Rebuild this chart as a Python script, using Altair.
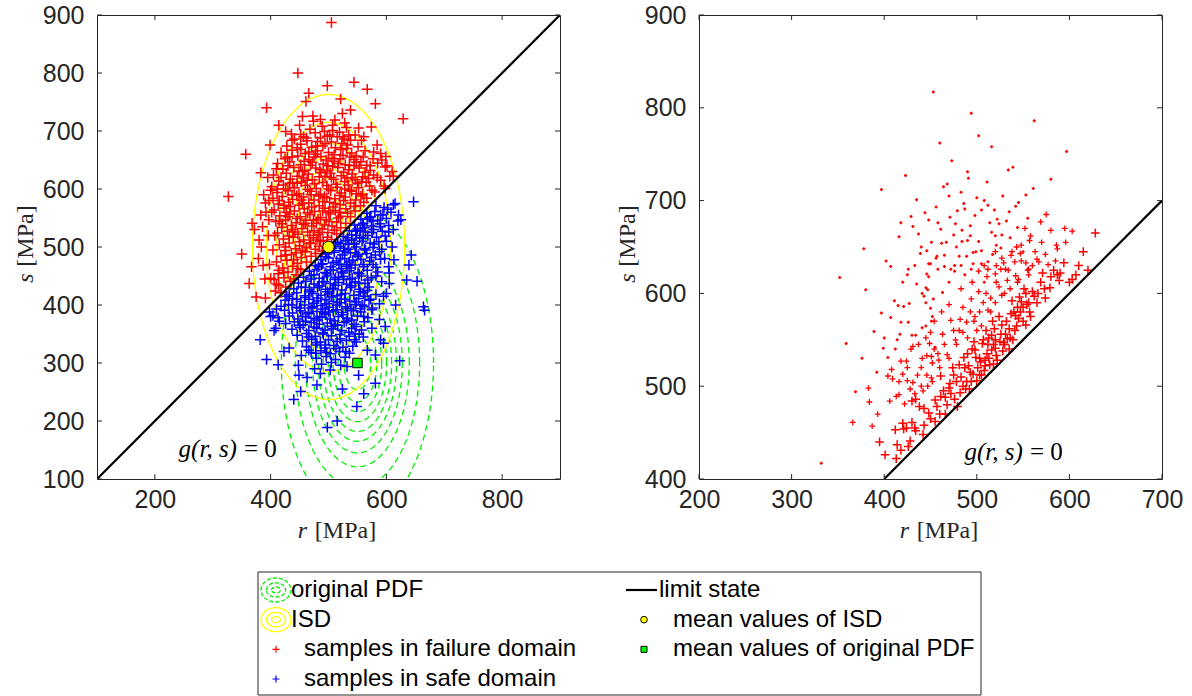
import altair as alt
import numpy as np
import pandas as pd

# ---------------- data ----------------
# left panel: importance sampling density (ISD) and original PDF
isd_mean = [500, 500]          # (r, s)
orig_mean = [550, 300]         # (r, s)
pdf_sigma = [50, 100]          # (sigma_r, sigma_s) of both densities
contour_k = [0.46, 0.67, 0.84, 1.01, 1.18, 1.35, 1.55, 1.79, 2.15, 2.63]

limit_left = [100, 900]
limit_right = [400, 700]

left_fail = [
    (505, 887), (447, 800), (498, 778), (544, 784), (567, 772), (466, 765), (461, 751), (521, 755), (581, 747), (393, 740),
    (455, 725), (473, 726), (524, 730), (538, 736), (629, 721), (414, 710), (426, 699), (474, 717), (511, 719), (528, 714),
    (552, 705), (574, 707), (535, 693), (561, 690), (399, 676), (357, 660), (437, 684), (578, 664), (599, 656), (383, 628),
    (410, 635), (610, 630), (327, 587), (350, 488), (367, 466), (363, 437), (375, 414), (391, 412), (368, 541), (372, 530),
    (380, 512), (388, 590), (391, 576), (397, 580), (383, 555), (397, 547), (390, 445), (400, 446), (414, 460),
    (395, 620), (400, 598), (392, 560), (386, 535), (396, 520), (404, 495), (398, 470), (387, 468), (379, 480), (384, 500),
    (601, 640), (612, 622), (592, 650), (596, 605),
    (468, 703), (489, 708), (507, 701), (531, 706),
    (452, 694), (477, 697), (498, 691), (519, 698), (546, 693),
    (441, 686), (463, 683), (486, 688), (505, 681), (527, 686), (557, 684),
    (428, 674), (452, 677), (471, 672), (494, 678), (512, 671), (533, 676), (551, 673), (584, 676),
    (418, 663), (437, 667), (460, 661), (481, 666), (500, 663), (521, 668), (540, 662), (563, 666), (590, 661),
    (425, 652), (447, 657), (466, 651), (487, 656), (506, 653), (525, 658), (544, 651), (560, 655), (577, 652),
    (412, 644), (433, 647), (452, 642), (472, 646), (491, 643), (510, 648), (529, 642), (548, 646), (566, 641), (585, 645),
    (421, 634), (440, 637), (459, 632), (478, 636), (497, 631), (516, 637), (535, 633), (553, 636), (572, 632), (598, 638),
    (405, 624), (427, 627), (446, 622), (465, 626), (484, 621), (503, 627), (522, 623), (541, 626), (559, 621), (578, 624), (606, 622),
    (414, 614), (434, 617), (453, 612), (472, 616), (490, 611), (509, 617), (528, 613), (546, 616), (565, 612), (590, 615),
    (402, 604), (422, 607), (441, 602), (460, 606), (479, 601), (497, 606), (515, 603), (534, 607), (552, 602), (571, 605), (598, 601),
    (411, 594), (430, 597), (449, 592), (468, 596), (486, 591), (504, 597), (522, 593), (540, 596), (559, 591), (580, 595),
    (404, 584), (420, 587), (438, 582), (457, 586), (475, 581), (493, 587), (511, 583), (529, 586), (547, 581), (566, 584),
    (413, 574), (431, 577), (449, 572), (466, 576), (484, 571), (502, 577), (520, 573), (538, 576), (555, 571),
    (406, 564), (423, 567), (441, 562), (458, 566), (476, 561), (494, 567), (512, 563), (530, 566), (546, 562),
    (416, 554), (433, 557), (451, 552), (468, 556), (486, 551), (503, 557), (521, 553), (538, 552),
    (409, 544), (426, 547), (444, 542), (461, 546), (479, 541), (496, 547), (514, 543), (530, 541),
    (419, 534), (436, 537), (454, 532), (471, 536), (489, 531), (506, 536), (521, 533),
    (412, 524), (429, 527), (447, 522), (464, 526), (482, 521), (499, 525), (514, 523),
    (422, 514), (439, 517), (457, 512), (474, 516), (491, 511), (505, 513),
    (415, 504), (432, 507), (450, 502), (467, 506), (484, 501),
    (425, 494), (443, 497), (460, 492), (477, 496), (489, 493),
    (418, 484), (436, 487), (453, 482), (470, 484),
    (410, 474), (428, 477), (446, 472), (462, 474),
    (421, 464), (438, 467), (452, 461),
    (413, 454), (430, 457), (444, 452),
    (406, 444), (423, 447), (434, 441),
    (414, 434), (426, 431), (408, 424), (418, 421),
    (457, 690), (481, 682), (502, 693), (523, 679),
    (446, 671), (466, 664), (490, 674), (510, 659), (531, 670), (548, 657),
    (437, 655), (458, 648), (478, 660), (496, 650), (517, 644), (537, 655), (556, 647),
    (430, 640), (449, 631), (469, 641), (487, 628), (507, 639), (526, 629), (544, 640), (563, 629),
    (418, 620), (438, 611), (457, 619), (476, 609), (494, 622), (513, 608), (532, 619), (550, 610), (569, 618),
    (426, 600), (445, 589), (464, 599), (483, 588), (500, 600), (519, 589), (537, 598), (556, 588), (575, 598),
    (415, 580), (434, 570), (453, 581), (471, 569), (490, 578), (508, 569), (526, 580), (544, 570), (561, 577),
    (427, 560), (446, 549), (464, 559), (482, 548), (500, 560), (517, 550), (533, 558),
    (420, 540), (438, 530), (457, 539), (475, 528), (493, 538), (510, 529),
    (432, 519), (450, 509), (468, 520), (486, 510), (498, 517),
    (426, 500), (444, 490), (462, 499), (478, 489),
    (462, 688), (493, 699), (515, 690), (538, 684), (475, 655), (452, 668), (499, 640), (520, 652), (541, 620), (463, 615),
    (485, 633), (446, 610), (505, 620), (528, 600), (470, 590), (490, 562), (455, 575), (437, 590), (512, 575), (548, 592),
    (430, 552), (474, 546), (497, 585), (519, 560), (442, 526), (460, 541), (485, 525), (501, 544), (423, 572), (415, 545),
    (433, 610), (455, 630), (478, 674), (536, 641), (557, 612), (572, 640), (584, 620), (525, 690), (507, 710), (486, 720),
    (450, 710), (436, 695), (429, 655), (412, 600), (402, 560), (407, 520), (426, 486), (440, 478), (455, 494), (469, 507),
    (480, 512), (447, 463), (423, 456), (410, 436), (440, 445),
]

left_safe = [
    (615, 575), (647, 578), (621, 555), (620, 545), (625, 547), (604, 526), (613, 478), (639, 469), (604, 466), (635, 443),
    (605, 437), (664, 397), (666, 391), (653, 441), (643, 486), (382, 340), (393, 306), (413, 297), (406, 356), (400, 380),
    (440, 237), (452, 251), (449, 279), (463, 275), (480, 262), (498, 189), (515, 200), (549, 225), (561, 247), (524, 255),
    (552, 279), (581, 265), (623, 304), (567, 322), (581, 314), (595, 334), (590, 340), (598, 363), (616, 400), (532, 294),
    (503, 288), (486, 282), (476, 290), (495, 331), (478, 317), (466, 322), (448, 296), (432, 326), (423, 320), (453, 313),
    (398, 388), (404, 382), (410, 393), (415, 372), (409, 360),
    (582, 571), (596, 568), (612, 573),
    (566, 558), (580, 561), (594, 556), (608, 560),
    (556, 548), (571, 551), (585, 546), (600, 549),
    (545, 538), (560, 541), (574, 536), (589, 540), (604, 537),
    (536, 528), (550, 531), (564, 526), (578, 530), (593, 527),
    (526, 518), (540, 521), (554, 516), (568, 520), (583, 517), (598, 519),
    (516, 508), (530, 511), (544, 506), (558, 510), (572, 507), (587, 509),
    (506, 498), (520, 501), (534, 496), (548, 500), (562, 497), (577, 499), (592, 496),
    (497, 488), (510, 491), (524, 486), (538, 490), (552, 487), (566, 489), (581, 486),
    (487, 478), (500, 481), (514, 476), (528, 480), (542, 477), (556, 479), (571, 476), (590, 479),
    (477, 468), (490, 471), (504, 466), (518, 470), (532, 467), (546, 469), (561, 466), (577, 470),
    (467, 458), (480, 461), (494, 456), (508, 460), (522, 457), (536, 459), (551, 456), (567, 460), (585, 457),
    (457, 448), (470, 451), (484, 446), (498, 450), (512, 447), (526, 449), (541, 446), (557, 450), (574, 447),
    (448, 438), (461, 441), (475, 436), (489, 440), (503, 437), (517, 439), (531, 436), (546, 440), (563, 437), (592, 440),
    (440, 428), (453, 431), (467, 426), (481, 430), (495, 427), (509, 429), (523, 426), (538, 430), (553, 427), (570, 431),
    (432, 418), (445, 421), (459, 416), (473, 420), (487, 417), (501, 419), (515, 416), (529, 420), (544, 417), (560, 421), (582, 418),
    (425, 408), (438, 411), (452, 406), (466, 410), (480, 407), (494, 409), (508, 406), (522, 410), (537, 407), (552, 411), (570, 408),
    (418, 398), (431, 401), (445, 396), (459, 400), (473, 397), (487, 399), (501, 396), (515, 400), (530, 397), (546, 401), (562, 398), (588, 402),
    (424, 391), (438, 386), (452, 390), (466, 387), (480, 389), (494, 386), (508, 390), (523, 387), (539, 391), (556, 388), (575, 392),
    (413, 378), (432, 381), (447, 376), (461, 380), (475, 377), (489, 379), (503, 376), (517, 380), (533, 377), (550, 381), (568, 378),
    (426, 368), (441, 371), (456, 366), (470, 370), (484, 367), (498, 369), (512, 366), (527, 370), (544, 367), (562, 371),
    (437, 358), (451, 361), (466, 356), (480, 360), (494, 357), (508, 359), (523, 356), (540, 360), (557, 357),
    (446, 348), (462, 351), (477, 346), (491, 350), (505, 347), (520, 349), (536, 346), (553, 350),
    (455, 338), (471, 341), (486, 336), (500, 340), (515, 337), (531, 339), (548, 336),
    (462, 328), (478, 331), (494, 326), (509, 330), (525, 327), (542, 329),
    (470, 318), (487, 321), (503, 316), (519, 320), (536, 317),
    (479, 308), (496, 311), (512, 306), (529, 310),
    (488, 298), (505, 301), (521, 296),
    (573, 552), (559, 538), (547, 527), (533, 516), (521, 506), (510, 494), (528, 493), (545, 505), (560, 515), (575, 525), (590, 535),
    (495, 483), (508, 473), (522, 463), (536, 474), (550, 484), (564, 495), (579, 505),
    (483, 466), (497, 454), (511, 444), (525, 455), (539, 464), (553, 454), (568, 443), (582, 465),
    (470, 445), (484, 433), (498, 423), (512, 434), (526, 444), (540, 433), (555, 423), (470, 423),
    (460, 413), (475, 403), (490, 393), (505, 414), (519, 404), (533, 394), (548, 405), (563, 415),
    (450, 395), (465, 385), (480, 374), (495, 384), (510, 373), (525, 383), (540, 374), (555, 394),
    (460, 372), (475, 362), (490, 352), (505, 363), (520, 342), (535, 353), (548, 363),
    (520, 480), (535, 505), (548, 520), (562, 533), (577, 545), (590, 555), (602, 565), (503, 460), (517, 448), (531, 470),
    (546, 490), (560, 470), (574, 482), (588, 492), (600, 510), (492, 440), (507, 428), (522, 418), (537, 445), (552, 438),
    (567, 425), (582, 450), (597, 480), (482, 412), (497, 402), (513, 392), (528, 410), (543, 390), (558, 400), (573, 410),
    (470, 395), (485, 380), (500, 388), (516, 365), (531, 372), (546, 350), (561, 380), (576, 395), (455, 380), (445, 410),
    (460, 430), (475, 452), (488, 470), (500, 490), (512, 505), (526, 498), (540, 512), (555, 528), (567, 548), (437, 400),
    (428, 415), (450, 365), (466, 345), (480, 335), (497, 318), (513, 325), (530, 320), (545, 340), (560, 345), (575, 360),
    (588, 375), (600, 420), (610, 500), (612, 530), (605, 455), (595, 415),
]

# right panel: failure samples, by marker size seen in the picture
right_dot = [
    (423, 727), (397, 712), (435, 701), (444, 687), (429, 683), (448, 679), (418, 676), (431, 672), (437, 664), (416, 661),
    (451, 655), (378, 648), (446, 646), (439, 643), (402, 635), (407, 629), (448, 632), (433, 630), (426, 626), (352, 617),
    (425, 620), (446, 621), (453, 817), (494, 794), (562, 786), (502, 770), (460, 762), (516, 758), (597, 753), (473, 743),
    (490, 731), (534, 733), (539, 736), (491, 724), (580, 723), (464, 715), (468, 718), (511, 720), (561, 713), (483, 709),
    (528, 705), (500, 703), (508, 700), (512, 695), (545, 698), (542, 694), (456, 693), (487, 691), (479, 689), (505, 690),
    (471, 682), (555, 681), (522, 680), (532, 678), (477, 675), (524, 675), (493, 673), (461, 669), (484, 668), (516, 666),
    (475, 663), (520, 662), (536, 660), (462, 654), (467, 655), (484, 656), (502, 656), (490, 657), (521, 652), (526, 649),
    (456, 638), (465, 641), (481, 640), (489, 640), (496, 644), (505, 646), (517, 642), (550, 645), (450, 632), (465, 629),
    (476, 630), (483, 630), (496, 632), (505, 632), (512, 634), (458, 626), (472, 626), (476, 624), (487, 620), (494, 626),
    (420, 612), (380, 604), (445, 606), (447, 604), (441, 600), (443, 597), (411, 592), (427, 589), (421, 586), (415, 587),
    (453, 594), (450, 584), (397, 579), (407, 574), (418, 569), (426, 569), (452, 575), (451, 570), (445, 565), (441, 563),
    (389, 559), (417, 556), (430, 555), (434, 555), (400, 552), (414, 550), (359, 546), (399, 541), (412, 540), (455, 542),
    (404, 531), (376, 530), (392, 515), (369, 494), (332, 417),
    (435, 610), (448, 618), (457, 640), (463, 601), (470, 612), (478, 650), (493, 662), (499, 645), (508, 612), (514, 676),
    (527, 663), (535, 688), (544, 671), (553, 706), (519, 690), (498, 684), (486, 697), (470, 705), (458, 676), (440, 650),
    (445, 590),
]
right_med = [
    (575, 685), (569, 677), (552, 670), (603, 667), (557, 657), (586, 652), (543, 650), (527, 638), (537, 641), (547, 643),
    (541, 634), (565, 637), (567, 634), (577, 631), (521, 630), (526, 626), (531, 626), (556, 626), (502, 624), (512, 626),
    (520, 621), (542, 619), (450, 558), (431, 543), (429, 540), (449, 546), (446, 533), (451, 532), (418, 527), (424, 527),
    (452, 525), (408, 518), (440, 520), (420, 513), (404, 511), (409, 508), (425, 506), (431, 504), (451, 509), (447, 500),
    (383, 498), (428, 497), (433, 492), (442, 495), (413, 489), (416, 491), (384, 483), (406, 484), (422, 481), (393, 470),
    (366, 461), (387, 457),
    (436, 512), (441, 530), (454, 540), (459, 528), (463, 556), (468, 534), (472, 571), (477, 550), (481, 560), (485, 585),
    (489, 569), (494, 594), (498, 575), (502, 602), (507, 590), (511, 618), (515, 595), (524, 607), (529, 633), (533, 614),
    (538, 645), (548, 652), (553, 633), (558, 662), (563, 645), (570, 655), (580, 668), (587, 648), (595, 670), (470, 588),
    (483, 605), (495, 612), (508, 630), (520, 645), (454, 570), (462, 580), (445, 552), (437, 545), (425, 520), (416, 505),
    (500, 560), (515, 580), (530, 600), (545, 615), (555, 625),
    (460, 520), (470, 530), (478, 545), (490, 552), (497, 570), (505, 565), (512, 582), (520, 590), (527, 598), (536, 605),
    (544, 612), (556, 620), (465, 545), (482, 572), (493, 580), (503, 580), (510, 600), (521, 612), (534, 625), (548, 635),
    (560, 630), (574, 642), (585, 635), (596, 655), (440, 500), (446, 512), (452, 505), (458, 535), (475, 560), (485, 558),
]
right_large = [
    (628, 665), (571, 622), (587, 620), (620, 625), (603, 615), (430, 484), (434, 486), (438, 478), (443, 476), (420, 460),
    (430, 461), (424, 455), (412, 453), (421, 454), (433, 455), (434, 452), (443, 458), (442, 448), (395, 440), (414, 437),
    (428, 441), (418, 431), (426, 435), (401, 426), (413, 422),
    (448, 471), (455, 462), (461, 489), (466, 470), (471, 503), (476, 486), (479, 478), (483, 510), (488, 497), (491, 522),
    (494, 505), (499, 531), (503, 512), (506, 546), (509, 522), (513, 530), (516, 555), (520, 541), (522, 528), (527, 566),
    (530, 545), (533, 551), (537, 578), (541, 560), (545, 573), (548, 591), (553, 566), (557, 580), (560, 602), (565, 590),
    (569, 612), (574, 595), (579, 606), (583, 625), (589, 614), (594, 633), (461, 511), (470, 498), (486, 531), (497, 548),
    (510, 560), (524, 575), (538, 592), (551, 605), (492, 497), (505, 512), (518, 524), (535, 540), (455, 485), (474, 520),
    (501, 520), (517, 570), (544, 585),
    (485, 500), (489, 505), (496, 513), (500, 506), (504, 526), (508, 517), (511, 535), (514, 523), (518, 545), (521, 533),
    (525, 548), (528, 538), (531, 556), (535, 562), (539, 550), (543, 565), (547, 580), (550, 570), (554, 588), (558, 575),
    (562, 597), (466, 488), (472, 492), (478, 505), (482, 493), (487, 520), (493, 515), (498, 539), (503, 530), (507, 550),
    (512, 545), (516, 539), (519, 562), (526, 556), (532, 570), (540, 580), (546, 596), (553, 600), (460, 470), (457, 478),
    (464, 495), (450, 465), (468, 480), (475, 512), (481, 523), (490, 535), (495, 540), (509, 528), (513, 552), (520, 550),
    (529, 547), (536, 552), (542, 576), (550, 585), (556, 590), (566, 600), (573, 605), (580, 618), (590, 622), (600, 612),
    (610, 630), (607, 620), (615, 645),
]

left_x_ticks = [200, 400, 600, 800]
left_y_ticks = [100, 200, 300, 400, 500, 600, 700, 800, 900]
right_x_ticks = [200, 300, 400, 500, 600, 700]
right_y_ticks = [400, 500, 600, 700, 800, 900]

legend_labels = ["original PDF", "ISD", "samples in failure domain", "samples in safe domain",
                 "limit state", "mean values of ISD", "mean values of original PDF"]
legend_col = [0, 0, 0, 0, 1, 1, 1]
legend_row = [0, 1, 2, 3, 0, 1, 2]

# ---------------- styling ----------------
W = 463
H = 464
FONT = "Liberation Sans"
SERIF = "Liberation Serif"
AXC = "#262626"
RED = "#ff0000"
BLUE = "#0000ff"
YEL = "#ffff00"
GRN = "#00ee00"
PLUS = "M-1,0L1,0M0,-1L0,1"
TICK = 5
LBL = 25


def pts(pairs):
    return pd.DataFrame(pairs, columns=["r", "s"])


def ellipses(mean):
    t = np.linspace(0, 2 * np.pi, 241)
    rows = []
    for i, k in enumerate(contour_k):
        for j, tt in enumerate(t):
            rows.append((i, j, mean[0] + k * pdf_sigma[0] * np.cos(tt), mean[1] + k * pdf_sigma[1] * np.sin(tt)))
    return pd.DataFrame(rows, columns=["lvl", "idx", "r", "s"])


def make_panel(xdom, ydom, xt, yt, layers, text_anchor):
    xs = alt.Scale(domain=xdom, nice=False, zero=False)
    ys = alt.Scale(domain=ydom, nice=False, zero=False)
    xax = alt.Axis(values=xt, ticks=False, domain=False, grid=False, labelFont=FONT, labelFontSize=LBL,
                   labelColor=AXC, labelPadding=8, labelFlush=False, labelOverlap=False)
    yax = alt.Axis(values=yt, ticks=False, domain=False, grid=False, labelFont=FONT, labelFontSize=LBL,
                   labelColor=AXC, labelPadding=13, labelFlush=False, labelOverlap=False)

    def X():
        return alt.X("r:Q", scale=xs, axis=xax, title="")

    def Y():
        return alt.Y("s:Q", scale=ys, axis=yax, title="")

    charts = []
    for kind, df, opts in layers:
        if kind == "line":
            charts.append(alt.Chart(df).mark_line(clip=True, **opts).encode(
                x=X(), y=Y(), detail="lvl:N", order="idx:Q"))
        elif kind == "seg":
            charts.append(alt.Chart(df).mark_line(clip=True, **opts).encode(x=X(), y=Y()))
        else:
            charts.append(alt.Chart(df).mark_point(**opts).encode(x=X(), y=Y()))

    # limit state annotation
    adf = pd.DataFrame({"r": [text_anchor[0]], "s": [text_anchor[1]], "a": ["g(r, s)"], "b": ["= 0"]})
    charts.append(alt.Chart(adf).mark_text(font=SERIF, fontStyle="italic", fontSize=25, align="right",
                                           baseline="middle", dx=-3, color="black").encode(x=X(), y=Y(), text="a:N"))
    charts.append(alt.Chart(adf).mark_text(font=SERIF, fontSize=25, align="left",
                                           baseline="middle", dx=4, color="black").encode(x=X(), y=Y(), text="b:N"))

    # inward ticks on all four sides
    dxt = pd.DataFrame({"r": xt})
    dyt = pd.DataFrame({"s": yt})
    rule = dict(color=AXC, strokeWidth=1)
    charts.append(alt.Chart(dxt).mark_rule(**rule).encode(x=X(), y=alt.value(H), y2=alt.value(H - TICK)))
    charts.append(alt.Chart(dxt).mark_rule(**rule).encode(x=X(), y=alt.value(0), y2=alt.value(TICK)))
    charts.append(alt.Chart(dyt).mark_rule(**rule).encode(y=Y(), x=alt.value(0), x2=alt.value(TICK)))
    charts.append(alt.Chart(dyt).mark_rule(**rule).encode(y=Y(), x=alt.value(W), x2=alt.value(W - TICK)))

    # axis titles (italic symbol + upright unit)
    tdf = pd.DataFrame({"v": ["r"], "u": ["[MPa]"], "w": ["s"]})
    charts.append(alt.Chart(tdf).mark_text(font=SERIF, fontStyle="italic", fontSize=24, color=AXC,
                                           baseline="middle", align="center").encode(
        text="v:N", x=alt.value(W / 2 - 26), y=alt.value(H + 52)))
    charts.append(alt.Chart(tdf).mark_text(font=SERIF, fontSize=24, color=AXC,
                                           baseline="middle", align="center").encode(
        text="u:N", x=alt.value(W / 2 + 17), y=alt.value(H + 52)))
    charts.append(alt.Chart(tdf).mark_text(font=SERIF, fontStyle="italic", fontSize=24, color=AXC, angle=270,
                                           baseline="middle", align="center").encode(
        text="w:N", x=alt.value(-71), y=alt.value(H / 2 + 31)))
    charts.append(alt.Chart(tdf).mark_text(font=SERIF, fontSize=24, color=AXC, angle=270,
                                           baseline="middle", align="center").encode(
        text="u:N", x=alt.value(-71), y=alt.value(H / 2 - 11)))

    return alt.layer(*charts).properties(width=W, height=H)


cross = dict(shape=PLUS, filled=False, opacity=1)

left_layers = [
    ("line", ellipses(orig_mean), dict(color=GRN, strokeWidth=1.3, strokeDash=[6, 4])),
    ("line", ellipses(isd_mean), dict(color=YEL, strokeWidth=1.3)),
    ("pt", pts(left_fail), dict(color=RED, size=110, strokeWidth=1.5, **cross)),
    ("pt", pts(left_safe), dict(color=BLUE, size=110, strokeWidth=1.5, **cross)),
    ("seg", pd.DataFrame({"r": limit_left, "s": limit_left}), dict(color="black", strokeWidth=2.2)),
    ("pt", pd.DataFrame({"r": [isd_mean[0]], "s": [isd_mean[1]]}),
     dict(shape="circle", filled=True, fill=YEL, stroke="black", strokeWidth=1, size=130, opacity=1)),
    ("pt", pd.DataFrame({"r": [orig_mean[0]], "s": [orig_mean[1]]}),
     dict(shape="square", filled=True, fill="#00ff00", stroke="black", strokeWidth=1, size=90, opacity=1)),
]
left = make_panel([100, 900], [100, 900], left_x_ticks, left_y_ticks, left_layers, (347, 152))

right_layers = [
    ("pt", pts(right_dot), dict(color=RED, size=9, strokeWidth=1.5, **cross)),
    ("pt", pts(right_med), dict(color=RED, size=34, strokeWidth=1.3, **cross)),
    ("pt", pts(right_large), dict(color=RED, size=76, strokeWidth=1.5, **cross)),
    ("seg", pd.DataFrame({"r": limit_right, "s": limit_right}), dict(color="black", strokeWidth=2.2)),
]
right = make_panel([200, 700], [400, 900], right_x_ticks, right_y_ticks, right_layers, (553, 429))

# ---------------- legend ----------------
# the legend view's origin is aligned with the left plot's origin (x = 96 on the page)
LW = 884
LH = 123
BOX_L = 161
leg = pd.DataFrame({"label": legend_labels, "col": legend_col, "row": legend_row})
lx = alt.Scale(domain=[0, 1], range=[179, 547])
ly = alt.Scale(domain=[0, 3], range=[18, 107])
LX = alt.X("col:Q", scale=lx, axis=None)
LY = alt.Y("row:Q", scale=ly, axis=None)

ELL = ("M-1,0A1,0.8,0,1,1,1,0A1,0.8,0,1,1,-1,0"
       "M-0.64,0A0.64,0.48,0,1,1,0.64,0A0.64,0.48,0,1,1,-0.64,0"
       "M-0.3,0A0.3,0.2,0,1,1,0.3,0A0.3,0.2,0,1,1,-0.3,0")

box = alt.Chart(pd.DataFrame({"a": [0]})).mark_rect(fill="white", stroke=AXC, strokeWidth=1).encode(
    x=alt.value(BOX_L), x2=alt.value(LW), y=alt.value(0), y2=alt.value(LH))

leg_layers = [box]
leg_layers.append(alt.Chart(leg.iloc[[0]]).mark_point(shape=ELL, filled=False, opacity=1, color=GRN,
                                                      strokeWidth=1.3, strokeDash=[4, 2], size=900).encode(x=LX, y=LY))
leg_layers.append(alt.Chart(leg.iloc[[1]]).mark_point(shape=ELL, filled=False, opacity=1, color=YEL,
                                                      strokeWidth=1.3, size=900).encode(x=LX, y=LY))
leg_layers.append(alt.Chart(leg.iloc[[2]]).mark_point(shape=PLUS, filled=False, opacity=1, color=RED,
                                                      strokeWidth=1.2, size=50).encode(x=LX, y=LY))
leg_layers.append(alt.Chart(leg.iloc[[3]]).mark_point(shape=PLUS, filled=False, opacity=1, color=BLUE,
                                                      strokeWidth=1.2, size=50).encode(x=LX, y=LY))
leg_layers.append(alt.Chart(leg.iloc[[4]]).mark_rule(color="black", strokeWidth=2.2).encode(
    x=alt.value(529), x2=alt.value(560), y=LY))
leg_layers.append(alt.Chart(leg.iloc[[5]]).mark_point(shape="circle", filled=True, fill=YEL, stroke="black",
                                                      strokeWidth=1, size=45, opacity=1).encode(x=LX, y=LY))
leg_layers.append(alt.Chart(leg.iloc[[6]]).mark_point(shape="square", filled=True, fill="#00ff00", stroke="black",
                                                      strokeWidth=1, size=36, opacity=1).encode(x=LX, y=LY))
tstyle = dict(font=FONT, fontSize=24, color="black", align="left", baseline="middle")
leg_layers.append(alt.Chart(leg.iloc[[0, 1]]).mark_text(dx=15, **tstyle).encode(x=LX, y=LY, text="label:N"))
leg_layers.append(alt.Chart(leg.iloc[[2, 3]]).mark_text(dx=28, **tstyle).encode(x=LX, y=LY, text="label:N"))
leg_layers.append(alt.Chart(leg.iloc[[4]]).mark_text(dx=15, **tstyle).encode(x=LX, y=LY, text="label:N"))
leg_layers.append(alt.Chart(leg.iloc[[5, 6]]).mark_text(dx=29, **tstyle).encode(x=LX, y=LY, text="label:N"))

legend = alt.layer(*leg_layers).properties(width=LW, height=LH,
                                           view=alt.ViewBackground(stroke="transparent"))

top = alt.hconcat(left, right, spacing=54)
chart = alt.vconcat(top, legend, spacing=27).properties(
    padding={"left": 13, "top": 2, "right": 5, "bottom": 0},
    background="white",
).configure_view(stroke=AXC, strokeWidth=1)

chart.save("out.html", embed_options={"renderer": "svg", "actions": False})
